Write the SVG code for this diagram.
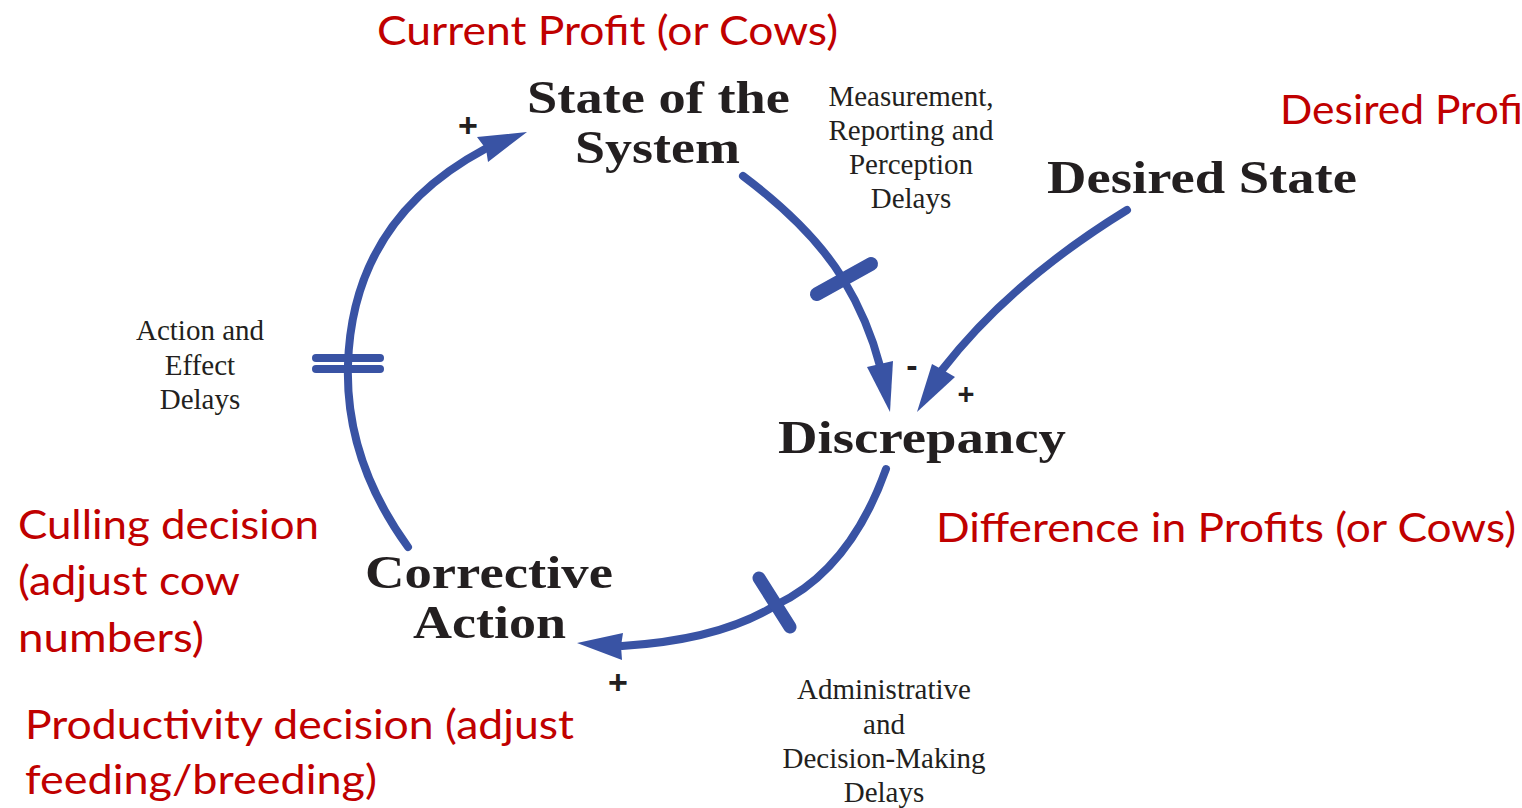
<svg xmlns="http://www.w3.org/2000/svg" width="1522" height="808" viewBox="0 0 1522 808">
<style>
.red{font-family:Lato,"Liberation Sans",sans-serif;font-size:40px;fill:#C00000}
.node{font-family:"Liberation Serif","DejaVu Serif",serif;font-weight:bold;font-size:47px;fill:#231F20}
.note{font-family:"Liberation Serif","DejaVu Serif",serif;font-size:29px;fill:#231F20;text-anchor:middle}
.sign{font-family:"Liberation Sans",sans-serif;font-weight:bold;font-size:34px;fill:#231F20;text-anchor:middle}
.link{fill:none;stroke:#3953A4;stroke-width:8;stroke-linecap:round}
.delay{fill:none;stroke:#3953A4;stroke-linecap:round}
.head{fill:#3953A4}
</style>
<rect width="1522" height="808" fill="#ffffff"/>
<g id="connectors">
  <path class="link" d="M408,547 Q345,460 348,365 Q352,220 485,149"/>
  <polygon class="head" points="527,132 477,137 486,149 488,162"/>
  <line class="delay" stroke-width="8" x1="316" y1="358" x2="380" y2="358"/>
  <line class="delay" stroke-width="8" x1="316" y1="369" x2="380" y2="369"/>

  <path class="link" d="M743,176 Q812,228 843,279 Q868,320 880,366"/>
  <polygon class="head" points="890,412 867,367 880,364 893,361"/>
  <line class="delay" stroke-width="14" x1="817" y1="294" x2="871" y2="264"/>

  <path class="link" d="M1127,210 Q1010,282 942,370"/>
  <polygon class="head" points="917,412 932,364 943,370 955,377"/>

  <path class="link" d="M886,469 Q850,570 776,605 Q720,640 622,646"/>
  <polygon class="head" points="577,643 623,633 621,646 622,660"/>
  <line class="delay" stroke-width="13" x1="759" y1="578" x2="790" y2="627"/>
</g>
<g id="state">
  <text class="node" x="527" y="113" textLength="263" lengthAdjust="spacingAndGlyphs">State of the</text>
  <text class="node" x="575" y="163" textLength="165" lengthAdjust="spacingAndGlyphs">System</text>
</g>
<g id="desired">
  <text class="node" x="1047" y="193" textLength="310" lengthAdjust="spacingAndGlyphs">Desired State</text>
</g>
<g id="discrepancy">
  <text class="node" x="778" y="453" textLength="288" lengthAdjust="spacingAndGlyphs">Discrepancy</text>
</g>
<g id="corrective">
  <text class="node" x="365" y="588" textLength="248" lengthAdjust="spacingAndGlyphs">Corrective</text>
  <text class="node" x="413" y="638" textLength="153" lengthAdjust="spacingAndGlyphs">Action</text>
</g>
<g id="notes">
  <text class="note" x="911" y="106">Measurement,</text>
  <text class="note" x="911" y="140">Reporting and</text>
  <text class="note" x="911" y="174">Perception</text>
  <text class="note" x="911" y="208">Delays</text>
  <text class="note" x="200" y="340">Action and</text>
  <text class="note" x="200" y="375">Effect</text>
  <text class="note" x="200" y="409">Delays</text>
  <text class="note" x="884" y="699">Administrative</text>
  <text class="note" x="884" y="734">and</text>
  <text class="note" x="884" y="768">Decision-Making</text>
  <text class="note" x="884" y="802">Delays</text>
</g>
<g id="signs">
  <text class="sign" x="468" y="137">+</text>
  <text class="sign" x="912" y="377">-</text>
  <text class="sign" x="966" y="404" style="font-size:29px">+</text>
  <text class="sign" x="618" y="694">+</text>
</g>
<g id="annotations">
  <text class="red" x="377" y="45" textLength="461" lengthAdjust="spacingAndGlyphs">Current Profit (or Cows)</text>
  <text class="red" x="1280" y="124" textLength="258" lengthAdjust="spacingAndGlyphs">Desired Profit</text>
  <text class="red" x="936" y="542" textLength="580" lengthAdjust="spacingAndGlyphs">Difference in Profits (or Cows)</text>
  <text class="red" x="18" y="539" textLength="301" lengthAdjust="spacingAndGlyphs">Culling decision</text>
  <text class="red" x="18" y="595" textLength="222" lengthAdjust="spacingAndGlyphs">(adjust cow</text>
  <text class="red" x="18" y="652" textLength="186" lengthAdjust="spacingAndGlyphs">numbers)</text>
  <text class="red" x="25" y="739" textLength="549" lengthAdjust="spacingAndGlyphs">Productivity decision (adjust</text>
  <text class="red" x="25" y="794" textLength="352" lengthAdjust="spacingAndGlyphs">feeding/breeding)</text>
</g>
</svg>
